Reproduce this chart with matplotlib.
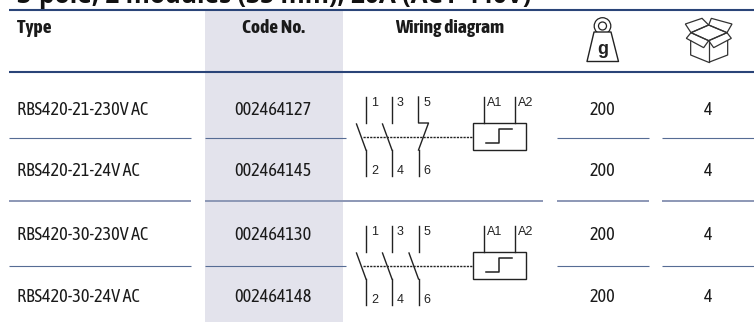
import matplotlib
matplotlib.use('Agg')
from matplotlib import pyplot as plt
from matplotlib.patches import Rectangle, Circle, Polygon

types = ['RBS420-21-230V AC', 'RBS420-21-24V AC', 'RBS420-30-230V AC', 'RBS420-30-24V AC']
codes = ['002464127', '002464145', '002464130', '002464148']
weights = ['200', '200', '200', '200']
packs = ['4', '4', '4', '4']
headers = ['Type', 'Code No.', 'Wiring diagram']
title = '3-pole, 2 modules (35 mm), 20A (AC1-440V)'

row_y = [110, 171, 235, 297]
NARROW = ['Asap Condensed', 'Liberation Sans']
INK = '#1a1a1a'
FS_HEAD = 14
FS_ROW = 13.1


def draw_wiring(ax, y0, jog):
    # y0 is the top of the contact lines, third pole has the small jog on the 21 version
    c = '#222222'
    for i, x in enumerate([366, 392, 418.5]):
        if i == 2 and jog:
            ax.plot([x, x, x + 10, x], [y0, y0 + 26, y0 + 26, y0 + 53], color=c, lw=1.0)
        else:
            ax.plot([x, x], [y0, y0 + 26], color=c, lw=1.0)
            ax.plot([x - 9.5, x], [y0 + 27, y0 + 53], color=c, lw=1.0)
        ax.plot([x, x], [y0 + 53, y0 + 79], color=c, lw=1.0)
        ax.text(x + 5, y0 + 6, str(2 * i + 1), fontsize=9, family='Liberation Sans', va='center', color=c)
        ax.text(x + 5, y0 + 74, str(2 * i + 2), fontsize=9, family='Liberation Sans', va='center', color=c)
    ax.plot([363, 473], [y0 + 39.5, y0 + 39.5], color=c, lw=1.0, ls=(0, (1.6, 0.8)))
    ax.add_patch(Rectangle((473, y0 + 26), 53, 27, fill=False, ec=c, lw=1.0))
    for x, lab in zip([484, 515], ['A1', 'A2']):
        ax.plot([x, x], [y0, y0 + 26], color=c, lw=1.0)
        ax.text(x + 3, y0 + 6, lab, fontsize=9, family='Liberation Sans', va='center', color=c)
    ax.plot([486, 499, 499, 512], [y0 + 46, y0 + 46, y0 + 32, y0 + 32], color=c, lw=1.1)


def draw_weight(ax):
    c = '#222222'
    ax.add_patch(Circle((602.5, 26), 8.3, fill=False, ec=c, lw=0.9))
    ax.add_patch(Polygon([(594, 32), (611, 32), (618.5, 61.5), (587, 61.5)], closed=True, fc='white', ec=c, lw=1.0, joinstyle='round', zorder=3))
    ax.add_patch(Circle((602.5, 26), 4, fc='white', ec=c, lw=0.9, zorder=4))
    ax.text(602.5, 49, 'g', fontsize=13, fontweight='bold', family='Liberation Sans', ha='center', va='center', color=c, zorder=5)


def draw_box(ax):
    c = '#333333'
    ox, oy, s = 377, 0, 1 / 3
    shapes = [
        [(995, 75), (942, 98), (995, 122), (1050, 98)],
        [(942, 98), (928, 115), (980, 143), (995, 122)],
        [(1050, 98), (1063, 115), (1010, 143), (995, 122)],
        [(942, 98), (925, 72), (975, 55), (995, 75)],
        [(1050, 98), (1065, 72), (1003, 55), (995, 75)],
    ]
    for pts in shapes:
        ax.add_patch(Polygon([(ox + x * s, oy + y * s) for x, y in pts], closed=True, fill=False, ec=c, lw=0.9))
    for pts in ([(941, 122), (941, 165), (995, 187), (1052, 165), (1052, 122)], [(995, 122), (995, 187)]):
        ax.plot([ox + x * s for x, y in pts], [oy + y * s for x, y in pts], color=c, lw=0.9)


fig = plt.figure(figsize=(7.54, 3.22), dpi=100)
ax = fig.add_axes([0, 0, 1, 1])
ax.set_xlim(0, 754)
ax.set_ylim(322, 0)
ax.axis('off')

# shaded code column
ax.add_patch(Rectangle((205, 11), 138, 311, fc='#e3e3ec', ec='none', zorder=0))

ax.text(17, 3, title, fontsize=17.7, fontweight='bold', family='Open Sans', va='baseline', color='#111111')

# rules
for y in [10, 72]:
    ax.plot([9, 754], [y, y], color='#2a4478', lw=1.5, solid_capstyle='butt')
for y in [137.5, 266]:
    for a, b in [(9, 191), (205, 346), (557, 649), (662, 754)]:
        ax.plot([a, b], [y, y], color='#566c94', lw=0.8, solid_capstyle='butt')
for a, b in [(9, 191), (205, 543), (557, 649), (662, 754)]:
    ax.plot([a, b], [200.5, 200.5], color='#8c97b5', lw=1.4, solid_capstyle='butt')

# header
ax.text(17, 28, headers[0], fontsize=FS_HEAD, fontweight='bold', family=NARROW, va='center', color=INK)
ax.text(273, 28, headers[1], fontsize=FS_HEAD, fontweight='bold', family=NARROW, va='center', ha='center', color=INK)
ax.text(450, 28, headers[2], fontsize=FS_HEAD, fontweight='bold', family=NARROW, va='center', ha='center', color=INK)
draw_weight(ax)
draw_box(ax)

# rows
for i, y in enumerate(row_y):
    ax.text(17, y, types[i], fontsize=FS_ROW, family=NARROW, va='center', color=INK)
    ax.text(273, y, codes[i], fontsize=FS_ROW, family=NARROW, va='center', ha='center', color=INK)
    ax.text(602, y, weights[i], fontsize=FS_ROW, family=NARROW, va='center', ha='center', color=INK)
    ax.text(708, y, packs[i], fontsize=FS_ROW, family=NARROW, va='center', ha='center', color=INK)

draw_wiring(ax, 97, True)
draw_wiring(ax, 226, False)

fig.savefig('out.png', dpi=100)
